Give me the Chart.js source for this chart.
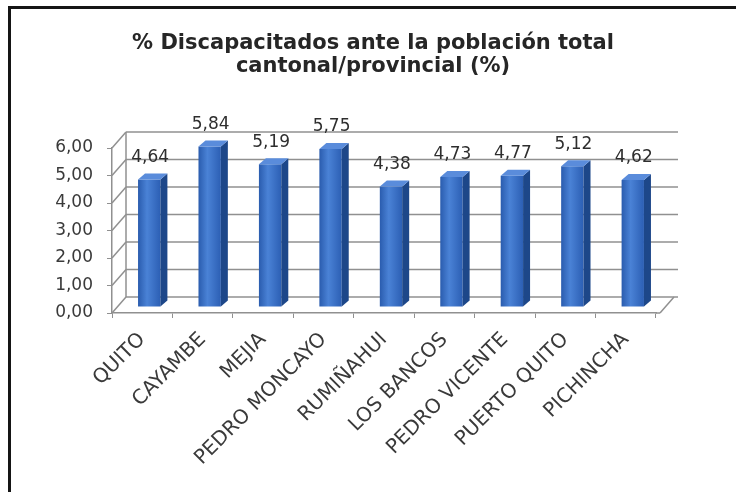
<!DOCTYPE html>
<html>
<head>
<meta charset="utf-8">
<script src="https://cdn.jsdelivr.net/npm/chart.js@4.4.1/dist/chart.umd.min.js"></script>
<style>
body{margin:0;background:#fff;overflow:hidden;}
#wrap{position:relative;width:736px;height:492px;}
#frame{position:absolute;left:8px;top:6px;width:740px;height:500px;border:3px solid #151515;pointer-events:none;}
</style>
</head>
<body>
<div id="wrap">
<canvas id="chart"></canvas>
<div id="frame"></div>
</div>
<script>
const CANTONES = ["QUITO","CAYAMBE","MEJIA","PEDRO MONCAYO","RUMIÑAHUI","LOS BANCOS","PEDRO VICENTE","PUERTO QUITO","PICHINCHA"];
const PORCENTAJES = [4.64,5.84,5.19,5.75,4.38,4.73,4.77,5.12,4.62];
const Y_TICKS = [0,1,2,3,4,5,6];
const TITULO = ["% Discapacitados ante la población total","cantonal/provincial (%)"];

// profundidad de la pared 3D
const DEPTH_X = 14, DEPTH_Y = -16;
const WALL_EXTRA = 8;
// desplazamiento de las barras y su caja
const BAR_SHIFT_X = 7, BAR_SHIFT_Y = -6;
const BAR_SIDE = 7, BAR_TOP = 6;
const BAR_PCT = 0.37;

function coma(v){
    return Number(v).toFixed(2).replace(".",",");
}

function line(ctx,x1,y1,x2,y2){
    ctx.beginPath();
    ctx.moveTo(x1,y1);
    ctx.lineTo(x2,y2);
    ctx.stroke();
}

const wall3d={
    id:"wall3d",
    beforeDatasetsDraw(chart){
        const {ctx,chartArea:a,scales:{y}}=chart;
        ctx.save();
        ctx.strokeStyle="#909090";
        ctx.lineWidth=1.5;
        Y_TICKS.forEach(v=>{
            const py=y.getPixelForValue(v);
            line(ctx,a.left,py,a.left+DEPTH_X,py+DEPTH_Y);
            line(ctx,a.left+DEPTH_X,py+DEPTH_Y,a.right+DEPTH_X+WALL_EXTRA,py+DEPTH_Y);
        });
        line(ctx,a.left+DEPTH_X,y.getPixelForValue(0)+DEPTH_Y,a.left+DEPTH_X,y.getPixelForValue(6)+DEPTH_Y);
        line(ctx,a.right+4,a.bottom,a.right+4+DEPTH_X,a.bottom+DEPTH_Y);
        line(ctx,a.right,a.bottom,a.right+4,a.bottom);
        ctx.restore();

        ctx.save();
        ctx.translate(BAR_SHIFT_X,BAR_SHIFT_Y);
    },
    afterDatasetsDraw(chart){
        const {ctx}=chart;
        const meta=chart.getDatasetMeta(0);
        meta.data.forEach((bar,i)=>{
            const p=bar.getProps(["x","y","base","width"],true);
            const l=p.x-p.width/2, r=p.x+p.width/2;

            ctx.fillStyle="#1d4789";
            ctx.beginPath();
            ctx.moveTo(r,p.y);
            ctx.lineTo(r+BAR_SIDE,p.y-BAR_TOP);
            ctx.lineTo(r+BAR_SIDE,p.base-BAR_TOP);
            ctx.lineTo(r,p.base);
            ctx.closePath();
            ctx.fill();

            ctx.fillStyle="#5a8cdb";
            ctx.beginPath();
            ctx.moveTo(l,p.y);
            ctx.lineTo(l+BAR_SIDE,p.y-BAR_TOP);
            ctx.lineTo(r+BAR_SIDE,p.y-BAR_TOP);
            ctx.lineTo(r,p.y);
            ctx.closePath();
            ctx.fill();

            ctx.fillStyle="#2e2e2e";
            ctx.font='17px "DejaVu Sans"';
            ctx.textAlign="center";
            ctx.textBaseline="middle";
            ctx.fillText(coma(PORCENTAJES[i]),p.x+1,p.y-22);
        });
        ctx.restore();
    },
    afterDraw(chart){
        const {ctx}=chart;
        ctx.save();
        ctx.fillStyle="#262626";
        ctx.font='bold 21px "DejaVu Sans"';
        ctx.textAlign="center";
        ctx.textBaseline="middle";
        ctx.fillText(TITULO[0],373,44);
        ctx.fillText(TITULO[1],373,67);
        ctx.restore();
    }
};

function barFill(c){
    const ch=c.chart;
    const xs=ch.scales.x;
    if(!xs||c.dataIndex===undefined) return "#3468c0";
    const cx=xs.getPixelForValue(c.dataIndex);
    const w=xs.width/CANTONES.length*BAR_PCT;
    if(!Number.isFinite(cx)||!Number.isFinite(w)||w<=0) return "#3468c0";
    const g=ch.ctx.createLinearGradient(cx-w/2,0,cx+w/2,0);
    g.addColorStop(0,"#2a5cae");
    g.addColorStop(0.4,"#4a82d6");
    g.addColorStop(1,"#2c5fb4");
    return g;
}

new Chart(document.getElementById("chart").getContext("2d"),{
    type:"bar",
    data:{
        labels:CANTONES,
        datasets:[{
            data:PORCENTAJES,
            backgroundColor:barFill,
            borderWidth:0,
            barPercentage:BAR_PCT,
            categoryPercentage:1
        }]
    },
    options:{
        responsive:true,
        maintainAspectRatio:false,
        animation:false,
        layout:{
            padding:{top:148,right:80,bottom:0,left:0}
        },
        plugins:{
            legend:{display:false},
            title:{display:false},
            tooltip:{enabled:false}
        },
        scales:{
            x:{
                grid:{drawOnChartArea:false,tickLength:5,color:"#909090",offset:true},
                border:{display:true,color:"#909090",width:1.5},
                ticks:{
                    minRotation:45,
                    maxRotation:45,
                    autoSkip:false,
                    padding:10,
                    color:"#3a3a3a",
                    font:{family:"DejaVu Sans",size:20}
                },
                afterFit:s=>{s.height=179;}
            },
            y:{
                min:0,
                max:6,
                grid:{drawOnChartArea:false,tickLength:5,color:"#909090"},
                border:{display:true,color:"#909090",width:1.5},
                ticks:{
                    stepSize:1,
                    padding:14,
                    color:"#3a3a3a",
                    font:{family:"DejaVu Sans",size:17},
                    callback:v=>coma(v)
                },
                afterFit:s=>{s.width=112;}
            }
        }
    },
    plugins:[wall3d]
});
</script>
</body>
</html>
